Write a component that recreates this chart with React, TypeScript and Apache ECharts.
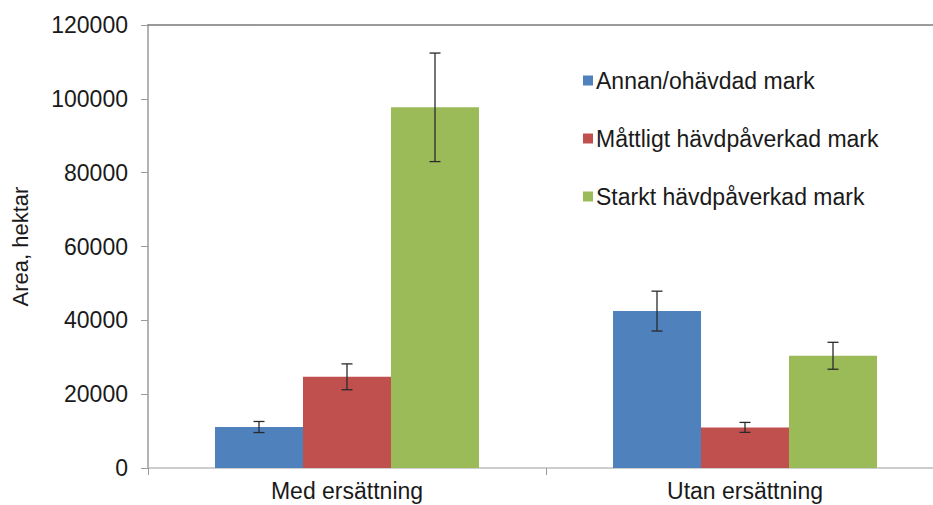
import React, { useEffect, useRef } from "react";
import * as echarts from "echarts";

const categories = ["Med ersättning", "Utan ersättning"];
const seriesNames = [
  "Annan/ohävdad mark",
  "Måttligt hävdpåverkad mark",
  "Starkt hävdpåverkad mark",
];
const annanValues = [11100, 42500];
const mattligtValues = [24700, 11000];
const starktValues = [97700, 30400];
const annanErr = [1500, 5400];
const mattligtErr = [3500, 1350];
const starktErr = [14700, 3650];
const yTicks = [0, 20000, 40000, 60000, 80000, 100000, 120000];

const COLORS = ["#4F81BD", "#C0504D", "#9BBB59"];
const FONT = "'Liberation Sans', Arial, sans-serif";
const BAR_W = 88;

export default function App() {
  const ref = useRef<HTMLDivElement>(null);
  useEffect(() => {
    document.body.style.margin = "0";
    if (!ref.current) return;
    const chart = echarts.init(ref.current, null, { renderer: "svg" });
    const values = [annanValues, mattligtValues, starktValues];
    const errs = [annanErr, mattligtErr, starktErr];
    const errData: number[][] = [];
    values.forEach((vals, s) => {
      vals.forEach((v, c) => {
        errData.push([c, v - errs[s][c], v + errs[s][c], s]);
      });
    });
    chart.setOption({
      animation: false,
      textStyle: { fontFamily: FONT },
      grid: { left: 148, top: 25, right: 0, height: 443 },
      legend: {
        orient: "vertical",
        left: 578,
        top: 64,
        itemWidth: 10,
        itemHeight: 10,
        itemGap: 35,
        icon: "rect",
        data: seriesNames,
        textStyle: { fontSize: 23, color: "#1a1a1a", fontFamily: FONT, lineHeight: 22, padding: [0, 0, 0, -2] },
      },
      xAxis: [
        {
          type: "category",
          data: categories,
          axisLine: { lineStyle: { color: "#bdbdbd", width: 1.5 } },
          axisTick: { show: true, length: 7, lineStyle: { color: "#9a9a9a" } },
          axisLabel: { fontSize: 23, color: "#1a1a1a", margin: 11, fontFamily: FONT },
        },
        {
          type: "category",
          position: "top",
          data: categories,
          axisLine: { show: true, lineStyle: { color: "#7a7a7a", width: 1.5 } },
          axisTick: { show: false },
          axisLabel: { show: false },
        },
      ],
      yAxis: {
        type: "value",
        min: 0,
        max: 120000,
        interval: 20000,
        name: "Area, hektar",
        nameLocation: "middle",
        nameGap: 117,
        nameTextStyle: { fontSize: 22, color: "#1a1a1a", fontFamily: FONT },
        axisLine: { show: true, lineStyle: { color: "#9a9a9a", width: 1.5 } },
        axisTick: { show: true, length: 7, lineStyle: { color: "#9a9a9a" } },
        axisLabel: {
          fontSize: 23,
          color: "#1a1a1a",
          margin: 20,
          fontFamily: FONT,
          formatter: (v: number) => (yTicks.includes(v) ? String(v) : ""),
        },
        splitLine: { show: false },
      },
      series: [
        ...seriesNames.map((name, i) => ({
          name,
          type: "bar",
          data: values[i],
          barWidth: BAR_W,
          barGap: "0%",
          itemStyle: { color: COLORS[i] },
        })),
        {
          type: "custom",
          name: "err",
          data: errData,
          z: 10,
          renderItem: (params: any, api: any) => {
            const c = api.value(0);
            const s = api.value(3);
            const lo = api.coord([c, api.value(1)]);
            const hi = api.coord([c, api.value(2)]);
            const x = lo[0] + (s - 1) * BAR_W;
            const cap = 5.5;
            const style = { stroke: "#2a2a2a", lineWidth: 1.3 };
            return {
              type: "group",
              children: [
                { type: "line", shape: { x1: x, y1: lo[1], x2: x, y2: hi[1] }, style },
                { type: "line", shape: { x1: x - cap, y1: hi[1], x2: x + cap, y2: hi[1] }, style },
                { type: "line", shape: { x1: x - cap, y1: lo[1], x2: x + cap, y2: lo[1] }, style },
              ],
            };
          },
        },
      ],
    });
    return () => chart.dispose();
  }, []);
  return (
    <div style={{ width: 933, height: 505, overflow: "hidden" }}>
      <div ref={ref} style={{ width: 944, height: 505 }} />
    </div>
  );
}
